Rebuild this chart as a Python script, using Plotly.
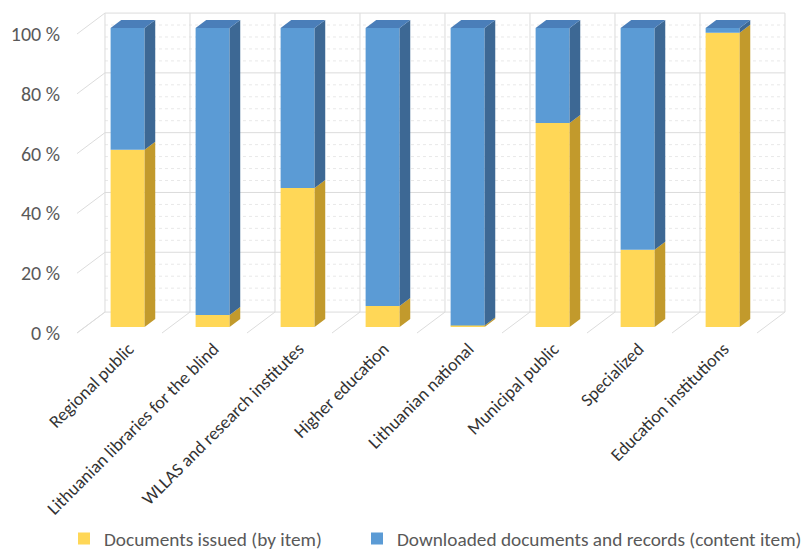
import plotly.graph_objects as go

categories = ["Regional public", "Lithuanian libraries for the blind",
              "WLLAS and research institutes", "Higher education",
              "Lithuanian national", "Municipal public", "Specialized",
              "Education institutions"]
issued = [59.3, 4.0, 46.5, 7.0, 0.5, 68.2, 25.8, 98.4]
downloaded = [round(100 - v, 1) for v in issued]
series_names = ["Documents issued (by item)",
                "Downloaded documents and records (content item)"]
y_ticks = [0, 20, 40, 60, 80, 100]

# 3D projection parameters (depth offset of back wall in data units)
DX, DY = 0.329, 7.0
FB, BB = 0.29, 0.67      # bar front / back depth fractions
BW = 0.4                 # bar width

YEL, YEL_SIDE = "#FFD757", "#C29A2C"
BLU, BLU_SIDE, BLU_TOP = "#5B9BD5", "#3D6894", "#4A7EB9"
GRID = "#DCDCDC"
FONT = "Carlito, Calibri, Lato, sans-serif"
TXT = "#595959"

n = len(categories)
fig = go.Figure()

# ---- walls / grid (shapes below traces) ----
shapes = []
def seg(xa, ya, xb, yb, color=GRID, dash="solid"):
    shapes.append(dict(type="line", xref="x", yref="y", x0=xa, y0=ya, x1=xb, y1=yb,
                       line=dict(color=color, width=1, dash=dash), layer="below"))
x0, x1 = -0.5, n - 0.5
for v in range(0, 101, 4):
    if v % 20:
        seg(x0 + DX, v + DY, x1 + DX, v + DY, "#E8E8E8", "dot")
for v in y_ticks:
    seg(x0 + DX, v + DY, x1 + DX, v + DY)
    seg(x0, v, x0 + DX, v + DY)
for k in range(n + 1):
    b = x0 + k
    seg(b + DX, DY, b + DX, 100 + DY)
    seg(b, 0, b + DX, DY)

# ---- bars: side and top faces ----
ddx, ddy = (BB - FB) * DX, (BB - FB) * DY
base0 = FB * DY
def side_poly(vals_lo, vals_hi):
    xs, ys = [], []
    for i in range(n):
        lo, hi = vals_lo[i], vals_hi[i]
        if hi - lo <= 0:
            continue
        xr = i + FB * DX + BW / 2
        xs += [xr, xr, xr + ddx, xr + ddx, xr, None]
        ys += [base0 + lo, base0 + hi, base0 + hi + ddy, base0 + lo + ddy, base0 + lo, None]
    return xs, ys

sx, sy = side_poly([0] * n, issued)
fig.add_trace(go.Scatter(x=sx, y=sy, fill="toself", fillcolor=YEL_SIDE, mode="lines",
                         line=dict(width=0, color=YEL_SIDE), hoverinfo="skip", showlegend=False))
tops = [issued[i] + downloaded[i] for i in range(n)]
sx, sy = side_poly(issued, tops)
fig.add_trace(go.Scatter(x=sx, y=sy, fill="toself", fillcolor=BLU_SIDE, mode="lines",
                         line=dict(width=0, color=BLU_SIDE), hoverinfo="skip", showlegend=False))
tx, ty = [], []
for i in range(n):
    xl = i + FB * DX - BW / 2
    xr = xl + BW
    t = base0 + tops[i]
    tx += [xl, xr, xr + ddx, xl + ddx, xl, None]
    ty += [t, t, t + ddy, t + ddy, t, None]
fig.add_trace(go.Scatter(x=tx, y=ty, fill="toself", fillcolor=BLU_TOP, mode="lines",
                         line=dict(width=0, color=BLU_TOP), hoverinfo="skip", showlegend=False))

# ---- bars: front faces ----
xf = [i + FB * DX for i in range(n)]
fig.add_trace(go.Bar(x=xf, y=issued, base=[base0] * n, width=BW, name=series_names[0],
                     marker=dict(color=YEL, line=dict(width=0)), legend="legend"))
fig.add_trace(go.Bar(x=xf, y=downloaded, base=[base0 + v for v in issued], width=BW,
                     name=series_names[1], marker=dict(color=BLU, line=dict(width=0)),
                     legend="legend2"))

leg_common = dict(orientation="h", xref="container", yref="container", yanchor="middle",
                  xanchor="left", font=dict(size=19.3, color=TXT), itemwidth=30,
                  bgcolor="rgba(0,0,0,0)")
fig.update_layout(
    width=806, height=553,
    margin=dict(l=77, r=16, t=5, b=219),
    paper_bgcolor="white", plot_bgcolor="white",
    barmode="overlay",
    font=dict(family=FONT, size=18, color=TXT),
    shapes=shapes,
    showlegend=True,
    legend=dict(leg_common, x=64 / 806, y=14 / 553),
    legend2=dict(leg_common, x=357 / 806, y=14 / 553),
    xaxis=dict(range=[-0.5, 7.888], tickvals=list(range(n)), ticktext=categories,
               tickangle=-45, showgrid=False, zeroline=False, showline=False,
               ticks="", tickfont=dict(size=18, color="#333333"), automargin=False,
               ticklabelshift=9, ticklabelstandoff=0),
    yaxis=dict(range=[-0.334, 109.7], tickvals=y_ticks,
               ticktext=[f"{v} %" for v in y_ticks], automargin=False,
               showgrid=False, zeroline=False, showline=False, ticks="",
               tickfont=dict(size=20, color=TXT), ticklabelstandoff=16),
)
fig.write_html("out.html")
